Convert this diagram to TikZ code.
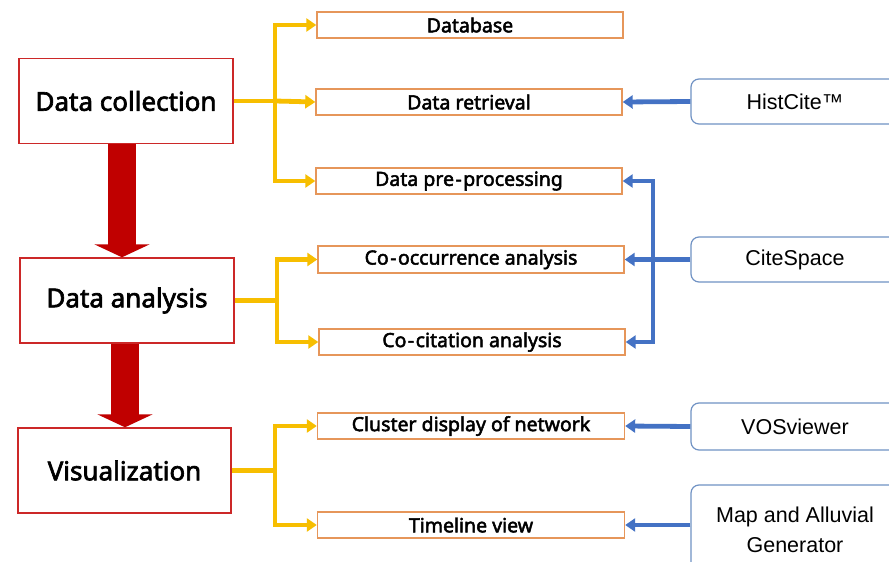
\documentclass[tikz,border=0pt]{standalone}
\usepackage{fontspec}
\setmainfont{Noto Sans}
\newfontfamily\semib{Noto Sans}[FakeBold=2.5]
\newfontfamily\toolfont{Liberation Sans}
\usetikzlibrary{arrows.meta,calc}
\definecolor{boxred}{RGB}{204,40,40}
\definecolor{arrred}{RGB}{192,0,0}
\definecolor{boxorange}{RGB}{230,150,90}
\definecolor{lnyellow}{RGB}{247,190,0}
\definecolor{lnblue}{RGB}{68,114,196}
\definecolor{toolborder}{RGB}{112,146,196}
\newcommand{\hy}{\kern1.5pt-\kern1.5pt}
\tikzset{
  mainbox/.style={draw=boxred,line width=1.4pt,minimum width=214pt,minimum height=85pt,inner sep=0pt,font=\fontsize{26}{30}\selectfont\semib},
  subbox/.style={draw=boxorange,line width=1.4pt,minimum width=306pt,minimum height=26pt,inner sep=0pt,font=\fontsize{19.5}{22}\selectfont\semib},
  toolbox/.style={draw=toolborder,line width=1.2pt,rounded corners=8pt,minimum width=208pt,minimum height=45pt,inner sep=0pt,align=center,font=\fontsize{21.5}{30}\selectfont\toolfont},
  bigarrow/.style={draw=arrred,line width=28pt,-{Triangle[width=55pt,length=13pt]}},
  yarr/.style={draw=lnyellow,line width=4.8pt,line join=miter,-{Triangle[width=13pt,length=10pt]}},
  yln/.style={draw=lnyellow,line width=4.8pt},
  barr/.style={draw=lnblue,line width=4.8pt,line join=miter,-{Triangle[width=13pt,length=10pt]}}
}
\begin{document}
\begin{tikzpicture}[x=1pt,y=-1pt]
\clip (0,0) rectangle (889,562);
\fill[white] (0,0) rectangle (889,562);
% main boxes
\node[mainbox] (dc) at (126,101) {Data collection};
\node[mainbox] (da) at (127,300.5) {Data analysis};
\node[mainbox,minimum width=213pt] (vis) at (124.5,470.5) {Visualization};
% sub boxes
\node[subbox] (db) at (470,25) {Database};
\node[subbox] (dr) at (469,102) {Data retrieval};
\node[subbox] (dp) at (469,181) {Data pre\hy processing};
\node[subbox,minimum height=27pt] (co) at (471,259.5) {Co\hy occurrence analysis};
\node[subbox] (cc) at (472,342) {Co\hy citation analysis};
\node[subbox,minimum width=307pt] (cl) at (471,426) {Cluster display of network};
\node[subbox,minimum width=307pt] (tl) at (471,525) {Timeline view};
% tool boxes
\node[toolbox] (hc) at (795,101.5) {HistCite™};
\node[toolbox] (cs) at (795,259.5) {CiteSpace};
\node[toolbox,minimum height=47pt] (vos) at (795,426.5) {VOSviewer};
\node[toolbox,minimum height=90pt] (map) at (795,530) {Map and Alluvial\\Generator};
% big red arrows
\draw[bigarrow] ([xshift=-4pt]dc.south) -- ([xshift=-4pt]dc.south |- da.north);
\draw[bigarrow] ([xshift=-2pt]da.south) -- ([xshift=-2pt]da.south |- vis.north);
% yellow connectors
\coordinate (t1) at (275,0);
\coordinate (t2) at (277,0);
\coordinate (t3) at (275,0);
\draw[yln] (dc.east) -- (t1 |- dc.east);
\draw[yarr] (t1 |- dc.east) |- (db.west);
\draw[yarr] (t1 |- dc.east) -- (dr.west);
\draw[yarr] (t1 |- dc.east) |- (dp.west);
\draw[yln] (da.east) -- (t2 |- da.east);
\draw[yarr] (t2 |- da.east) |- (co.west);
\draw[yarr] (t2 |- da.east) |- (cc.west);
\draw[yln] (vis.east) -- (t3 |- vis.east);
\draw[yarr] (t3 |- vis.east) |- (cl.west);
\draw[yarr] (t3 |- vis.east) |- (tl.west);
% blue connectors
\coordinate (bus) at (653,0);
\draw[barr] (hc.west) -- (dr.east);
\draw[barr] (cs.west) -- (co.east);
\draw[barr] (bus |- co.east) |- (dp.east);
\draw[barr] (bus |- co.east) |- (cc.east);
\draw[barr] (vos.west) -- (cl.east);
\draw[barr] (map.west |- tl.east) -- (tl.east);
\end{tikzpicture}
\end{document}
